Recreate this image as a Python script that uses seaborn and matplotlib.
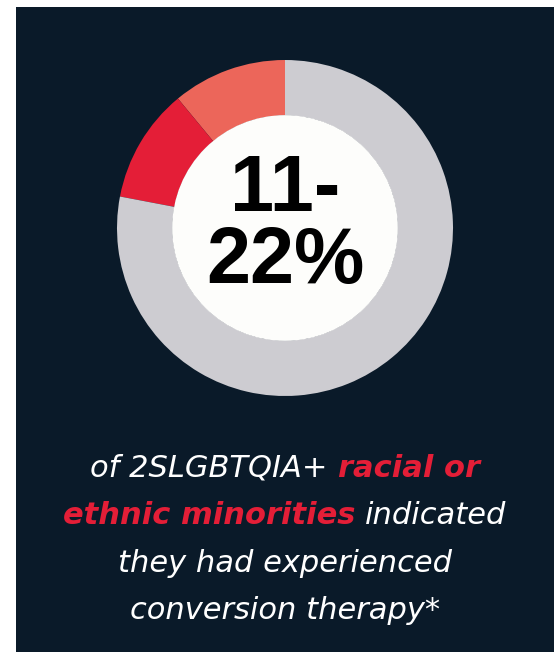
import matplotlib
matplotlib.use("Agg")
import matplotlib.pyplot as plt
import seaborn as sns
from matplotlib.patches import Rectangle, Circle

# data
labels = ["11%", "11%", "rest"]
shares = [11, 11, 78]
slice_colors = ["#ec665a", "#e41e37", "#cdccd1"]
center_lines = ["11-", "22%"]

# caption split into coloured pieces per line: (text, highlighted)
caption = [
    [("of 2SLGBTQIA+", False), ("racial or", True)],
    [("ethnic minorities", True), ("indicated", False)],
    [("they had experienced", False)],
    [("conversion therapy*", False)],
]

NAVY = "#0a1a29"
RED = "#e41e37"

sns.set_theme(style="white")
plt.rcParams["font.family"] = ["Liberation Sans", "DejaVu Sans"]

W, H = 558, 652
fig = plt.figure(figsize=(W / 100, H / 100), dpi=100)
fig.patch.set_facecolor("white")

# background axes in pixel coordinates
bg = fig.add_axes([0, 0, 1, 1])
bg.set_xlim(0, W)
bg.set_ylim(H, 0)
bg.axis("off")
bg.add_patch(Rectangle((16, 7), 538, H - 7, facecolor=NAVY, edgecolor="none"))

# donut
cx, cy, r = 285, 228, 168
ax = fig.add_axes([(cx - r) / W, (H - cy - r) / H, 2 * r / W, 2 * r / H])
ax.pie(shares, colors=slice_colors, startangle=90, counterclock=True,
       radius=1, wedgeprops=dict(width=0.33, linewidth=0))
ax.add_patch(Circle((0, 0), 0.672, facecolor="#fdfdfb", edgecolor="none"))
ax.set_xlim(-1, 1)
ax.set_ylim(-1, 1)
ax.set_aspect("equal")
ax.axis("off")

ax.text(0, (cy - 211) / r, center_lines[0], ha="center", va="baseline",
        fontsize=57, fontweight="bold", color="black")
ax.text(0, (cy - 283) / r, center_lines[1], ha="center", va="baseline",
        fontsize=57, fontweight="bold", color="black")

# caption with mixed colours
renderer = fig.canvas.get_renderer()
fsize = 22
cap_font = ["DejaVu Sans"]


def measure(s, weight):
    t = bg.text(0, 0, s, fontsize=fsize, style="italic", fontweight=weight,
                family=cap_font)
    w = t.get_window_extent(renderer).width
    t.remove()
    return w


space = measure("x x", "normal") - measure("xx", "normal")
baselines = [477, 524, 572, 619]
for line, yb in zip(caption, baselines):
    pieces = []
    for s, hi in line:
        weight = "bold" if hi else "normal"
        pieces.append((s, weight, RED if hi else "white", measure(s, weight)))
    total = sum(p[3] for p in pieces) + space * (len(pieces) - 1)
    x = cx - total / 2
    for s, weight, col, w in pieces:
        bg.text(x, yb, s, fontsize=fsize, style="italic", fontweight=weight,
                color=col, ha="left", va="baseline", family=cap_font)
        x += w + space

fig.savefig("out.png", dpi=100, facecolor=fig.get_facecolor())
